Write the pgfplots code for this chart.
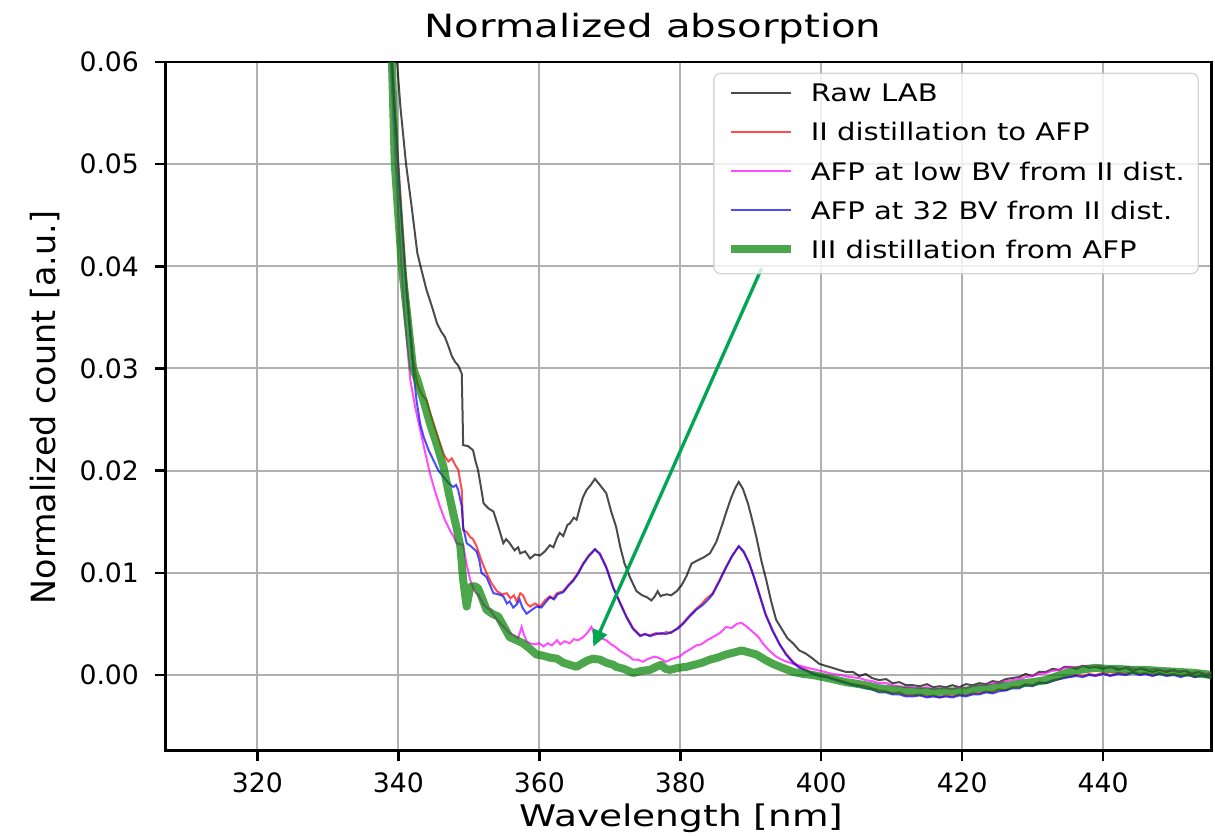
\documentclass[border=0pt]{standalone}
\usepackage{fontspec}
\setmainfont{DejaVu Sans}
\newfontfamily\widefont[FakeStretch=1.26]{DejaVu Sans}
\newfontfamily\legfont[FakeStretch=1.2]{DejaVu Sans}
\usepackage{pgfplots}
\pgfplotsset{compat=1.18}
\usetikzlibrary{arrows.meta}
\definecolor{gridc}{HTML}{B0B0B0}
\definecolor{arrowc}{HTML}{00A651}
\definecolor{mplgreen}{HTML}{008000}
\definecolor{mplred}{rgb}{1,0,0}
\definecolor{mplmagenta}{rgb}{1,0,1}
\definecolor{mplblue}{rgb}{0,0,1}

\begin{document}
\begin{tikzpicture}
\useasboundingbox (-49.71pt,-25.59pt) rectangle (314.79pt,225.21pt);
\begin{axis}[
    at={(0,0)}, anchor=south west,
    scale only axis,
    width=313.7pt, height=206.6pt,
    xmin=307.0, xmax=455.35,
    ymin=-0.00741, ymax=0.06,
    xtick={320,340,...,440},
    ytick={0,0.01,...,0.06},
    scaled y ticks=false,
    yticklabel style={/pgf/number format/fixed, /pgf/number format/fixed zerofill,
        /pgf/number format/precision=2, xshift=-1.3pt},
    /pgf/number format/assume math mode=true,
    ticklabel style={font=\fontsize{8}{9.6}\selectfont},
    tick pos=left,
    tick align=outside,
    major tick length=3.2pt,
    every tick/.style={black, line width=0.75pt},
    axis line style={line width=0.75pt},
    grid=major,
    grid style={gridc, line width=0.6pt},
    title={Normalized absorption},
    every axis title/.style={at={(axis description cs:0.466,1)}, anchor=base, yshift=7.4pt,
        font=\widefont\fontsize{9.6}{11}\selectfont},
    xlabel={Wavelength [nm]},
    every axis x label/.style={at={(axis description cs:0.4932,0)}, anchor=base, yshift=-22.8pt,
        font=\widefont\fontsize{8.94}{10.5}\selectfont},
    ylabel={Normalized count [a.u.]},
    every axis y label/.style={at={(axis description cs:-0.115,0.4983)}, rotate=90,
        anchor=center, font=\fontsize{10}{12}\selectfont},
    legend style={at={(axis description cs:0.9881,0.9845)}, anchor=north east,
        font=\legfont\fontsize{7.26}{8.7}\selectfont,
        draw=gray!40, rounded corners=2pt, fill=white, fill opacity=0.8,
        text opacity=1, draw opacity=0.8,
        inner xsep=4pt, inner ysep=3pt, row sep=4.65pt, column sep=4.9pt,
        nodes={inner sep=0pt, text height=5.5pt, text depth=1.6pt},
        cells={anchor=base west}},
    legend image code/.code={\draw[#1] (0pt,2.7pt) -- (17.8pt,2.7pt);},
]
% Raw LAB
\addplot[black, draw opacity=0.7, line width=0.6pt] table {
336.0 0.0900
339.0 0.0680
339.8 0.0602
340.3 0.0556
341.1 0.0500
341.9 0.0458
342.7 0.0413
343.3 0.0396
344.0 0.0377
344.8 0.0360
345.5 0.0344
346.1 0.0336
346.6 0.0331
347.1 0.0322
347.6 0.0312
348.1 0.0306
348.5 0.0303
349.0 0.0295
349.1 0.0262
349.2 0.0225
349.9 0.0224
350.6 0.0220
351.0 0.0208
351.3 0.0201
351.7 0.0185
352.1 0.0168
352.8 0.0163
353.5 0.0160
354.2 0.0145
354.9 0.0129
355.3 0.0133
355.8 0.0129
356.5 0.0122
357.0 0.0125
357.3 0.0119
358.0 0.0121
358.7 0.0114
359.4 0.0118
360.1 0.0117
360.8 0.0121
361.5 0.0127
362.0 0.0125
362.5 0.0134
362.9 0.0139
363.4 0.0136
364.0 0.0147
364.3 0.0148
364.9 0.0154
365.3 0.0152
365.8 0.0165
366.2 0.0174
366.7 0.0181
367.3 0.0186
367.9 0.0192
368.6 0.0186
369.5 0.0178
370.2 0.0160
370.9 0.0145
371.5 0.0125
372.1 0.0109
372.9 0.0095
373.8 0.0082
374.6 0.0078
375.3 0.0076
375.9 0.0073
376.4 0.0077
376.8 0.0082
377.2 0.0077
377.5 0.0078
378.1 0.0079
378.7 0.0078
379.5 0.0082
380.2 0.0088
380.9 0.0097
381.6 0.0109
382.4 0.0112
383.3 0.0115
384.2 0.0119
385.1 0.0130
386.0 0.0148
386.6 0.0161
387.2 0.0173
387.8 0.0183
388.3 0.0189
388.9 0.0182
389.6 0.0168
390.2 0.0152
390.8 0.0135
391.5 0.0112
392.2 0.0093
392.9 0.0072
393.6 0.0054
394.4 0.0045
395.2 0.0036
396.0 0.0031
396.9 0.0024
397.8 0.0021
398.8 0.0016
399.7 0.0011
400.6 0.0009
401.6 0.0007
402.5 0.0005
403.5 0.0003
404.5 0.0003
405.4 -0.0001
406.3 0.0001
407.2 -0.0003
408.2 -0.0005
409.2 -0.0004
410.1 -0.0008
411.1 -0.0007
412.0 -0.0010
413.0 -0.0010
414.0 -0.0011
415.0 -0.0009
415.9 -0.0012
416.8 -0.0011
417.7 -0.0012
418.6 -0.0010
419.6 -0.0012
420.5 -0.0009
421.5 -0.0010
422.4 -0.0008
423.4 -0.0009
424.3 -0.0006
425.2 -0.0007
426.2 -0.0004
427.1 -0.0003
428.1 -0.0002
429.0 0.0001
430.0 -0.0001
430.9 0.0003
431.9 0.0003
432.8 0.0006
433.8 0.0005
434.5 0.0008
435.2 0.0008
436.2 0.0006
437.1 0.0009
438.0 0.0007
438.9 0.0008
440.0 0.0006
441.0 0.0008
442.1 0.0005
443.2 0.0007
444.2 0.0004
445.2 0.0006
446.0 0.0005
447.0 0.0003
448.0 0.0005
449.0 0.0003
450.0 0.0005
450.7 0.0003
451.7 0.0004
452.6 0.0001
453.6 0.0003
454.5 0.0000
455.4 0.0001
};
\addlegendentry{Raw LAB}
% II distillation to AFP
\addplot[mplred, draw opacity=0.7, line width=0.6pt] table {
336.0 0.0900
339.0 0.0620
339.5 0.0555
340.5 0.0450
341.2 0.0380
342.1 0.0310
342.7 0.0285
343.3 0.0275
344.0 0.0269
344.6 0.0255
345.3 0.0240
345.9 0.0227
346.5 0.0215
347.1 0.0209
347.6 0.0212
348.1 0.0205
348.5 0.0201
349.0 0.0181
349.2 0.0142
349.7 0.0140
350.2 0.0135
350.6 0.0133
351.1 0.0126
351.8 0.0112
352.5 0.0100
353.2 0.0090
354.0 0.0082
354.7 0.0079
355.4 0.0080
355.9 0.0075
356.4 0.0078
356.8 0.0072
357.3 0.0080
357.7 0.0078
358.2 0.0070
358.7 0.0067
359.4 0.0070
360.1 0.0067
360.8 0.0073
361.5 0.0077
362.0 0.0075
362.5 0.0080
363.4 0.0082
364.1 0.0088
364.8 0.0093
365.5 0.0100
366.2 0.0109
367.0 0.0117
367.9 0.0123
368.6 0.0119
369.5 0.0106
370.5 0.0086
371.4 0.0072
372.4 0.0057
373.3 0.0046
374.3 0.0039
375.0 0.0040
375.7 0.0039
376.6 0.0041
377.3 0.0040
378.0 0.0042
378.7 0.0041
379.6 0.0046
380.4 0.0051
381.3 0.0058
382.3 0.0065
383.1 0.0070
383.6 0.0074
384.6 0.0080
385.5 0.0092
386.5 0.0106
387.4 0.0117
388.3 0.0126
389.0 0.0120
389.8 0.0109
390.5 0.0095
391.2 0.0080
392.1 0.0060
393.1 0.0044
394.1 0.0030
395.0 0.0021
396.0 0.0013
396.9 0.0008
397.9 0.0005
398.8 0.0002
399.7 0.0000
400.6 -0.0001
401.6 -0.0003
402.5 -0.0005
403.5 -0.0007
404.5 -0.0009
405.4 -0.0010
406.3 -0.0011
407.2 -0.0013
408.2 -0.0015
409.2 -0.0016
410.1 -0.0018
411.1 -0.0017
412.0 -0.0020
413.0 -0.0020
414.0 -0.0019
415.0 -0.0021
415.9 -0.0020
416.8 -0.0022
417.7 -0.0020
418.6 -0.0021
419.6 -0.0019
420.5 -0.0020
421.5 -0.0018
422.4 -0.0018
423.4 -0.0016
424.3 -0.0017
425.2 -0.0014
426.2 -0.0015
427.1 -0.0012
428.1 -0.0012
429.0 -0.0009
430.0 -0.0010
430.9 -0.0007
431.9 -0.0008
432.8 -0.0005
433.8 -0.0004
434.5 -0.0002
435.2 -0.0002
436.2 0.0000
437.1 -0.0001
438.0 0.0001
438.9 0.0000
440.0 0.0002
441.0 0.0000
442.1 0.0002
443.2 0.0001
444.2 0.0003
445.2 0.0001
446.0 0.0002
447.0 0.0000
448.0 0.0002
449.0 0.0000
450.0 0.0001
451.0 -0.0001
452.0 0.0001
453.0 -0.0002
454.0 0.0000
455.4 -0.0002
};
\addlegendentry{II distillation to AFP}
% AFP at low BV
\addplot[mplmagenta, draw opacity=0.7, line width=0.6pt] table {
336.0 0.0900
338.8 0.0620
339.3 0.0545
340.1 0.0440
340.9 0.0350
341.7 0.0289
342.4 0.0262
343.1 0.0240
343.8 0.0218
344.5 0.0197
345.2 0.0180
345.9 0.0165
346.6 0.0152
347.3 0.0142
347.8 0.0136
348.3 0.0129
348.8 0.0128
349.2 0.0127
349.7 0.0108
350.2 0.0093
350.8 0.0082
351.4 0.0078
352.0 0.0070
352.5 0.0066
353.0 0.0064
353.7 0.0057
354.4 0.0051
355.1 0.0046
355.8 0.0041
356.4 0.0039
357.0 0.0036
357.5 0.0047
357.8 0.0040
358.2 0.0033
358.7 0.0031
359.4 0.0030
360.0 0.0031
360.6 0.0028
361.2 0.0031
361.8 0.0029
362.5 0.0034
363.0 0.0030
363.6 0.0033
364.3 0.0031
364.9 0.0035
365.5 0.0034
366.2 0.0037
366.8 0.0041
367.4 0.0047
368.1 0.0034
368.8 0.0036
369.5 0.0034
370.2 0.0030
370.7 0.0028
371.4 0.0024
372.1 0.0021
372.8 0.0018
373.3 0.0015
374.0 0.0015
374.7 0.0013
375.5 0.0016
376.4 0.0018
377.2 0.0016
378.0 0.0013
378.9 0.0016
379.9 0.0018
380.6 0.0022
381.4 0.0025
382.3 0.0029
383.0 0.0030
383.8 0.0034
384.6 0.0037
385.6 0.0041
386.5 0.0047
387.3 0.0046
388.0 0.0050
388.7 0.0051
389.5 0.0047
390.3 0.0042
391.0 0.0038
391.7 0.0031
392.6 0.0024
393.6 0.0018
394.7 0.0014
396.0 0.0011
397.5 0.0008
399.3 0.0005
400.5 0.0003
401.6 0.0001
402.8 0.0000
404.0 -0.0002
405.4 -0.0003
406.3 -0.0005
407.2 -0.0006
408.2 -0.0008
409.2 -0.0008
410.1 -0.0010
411.1 -0.0011
412.0 -0.0012
413.0 -0.0012
414.0 -0.0013
415.0 -0.0012
415.9 -0.0014
416.8 -0.0013
417.7 -0.0013
418.6 -0.0014
419.6 -0.0012
420.5 -0.0013
421.5 -0.0011
422.4 -0.0010
423.4 -0.0010
424.3 -0.0008
425.2 -0.0008
426.2 -0.0006
427.1 -0.0005
428.1 -0.0004
429.0 -0.0002
430.0 -0.0001
430.9 0.0001
431.9 0.0002
432.8 0.0004
433.8 0.0005
434.5 0.0007
435.5 0.0008
436.5 0.0008
437.5 0.0009
438.5 0.0008
439.5 0.0009
440.5 0.0007
441.5 0.0008
442.5 0.0006
443.5 0.0008
444.5 0.0006
445.5 0.0007
446.5 0.0005
447.5 0.0006
448.5 0.0004
449.5 0.0005
450.5 0.0003
451.5 0.0004
452.5 0.0002
453.5 0.0003
454.5 0.0001
455.4 0.0002
};
\addlegendentry{AFP at low BV from II dist.}
% AFP at 32 BV
\addplot[mplblue, draw opacity=0.7, line width=0.6pt] table {
336.0 0.0900
339.0 0.0610
339.5 0.0550
340.5 0.0440
341.2 0.0370
342.1 0.0300
342.6 0.0268
343.1 0.0246
343.6 0.0233
344.3 0.0220
345.0 0.0210
345.7 0.0200
346.4 0.0194
347.1 0.0188
347.8 0.0184
348.2 0.0186
348.5 0.0181
349.0 0.0165
349.2 0.0145
349.7 0.0129
350.3 0.0126
351.1 0.0121
351.5 0.0112
351.8 0.0100
352.5 0.0096
353.0 0.0088
353.5 0.0080
354.2 0.0079
354.9 0.0077
355.4 0.0070
355.8 0.0072
356.3 0.0066
356.8 0.0069
357.2 0.0074
357.6 0.0066
358.2 0.0060
358.8 0.0063
359.6 0.0067
360.3 0.0066
361.0 0.0072
361.5 0.0076
362.1 0.0074
362.6 0.0079
363.4 0.0081
364.1 0.0087
364.8 0.0092
365.5 0.0099
366.2 0.0108
367.0 0.0116
367.9 0.0123
368.6 0.0118
369.5 0.0105
370.5 0.0085
371.4 0.0071
372.4 0.0056
373.3 0.0045
374.3 0.0038
375.0 0.0040
375.7 0.0038
376.6 0.0040
377.3 0.0041
378.0 0.0040
378.7 0.0042
379.6 0.0045
380.4 0.0050
381.3 0.0057
382.3 0.0064
383.1 0.0068
384.0 0.0074
384.6 0.0079
385.5 0.0091
386.5 0.0105
387.4 0.0117
388.3 0.0126
389.0 0.0121
389.8 0.0109
390.5 0.0095
391.2 0.0079
392.1 0.0059
393.1 0.0043
394.1 0.0030
395.0 0.0020
396.0 0.0012
396.9 0.0007
397.9 0.0004
398.8 0.0001
399.7 -0.0001
400.6 -0.0002
401.6 -0.0004
402.5 -0.0006
403.5 -0.0008
404.5 -0.0010
405.4 -0.0011
406.3 -0.0013
407.2 -0.0014
408.2 -0.0017
409.2 -0.0017
410.1 -0.0019
411.1 -0.0019
412.0 -0.0021
413.0 -0.0021
414.0 -0.0020
415.0 -0.0022
415.9 -0.0021
416.8 -0.0022
417.7 -0.0021
418.6 -0.0022
419.6 -0.0020
420.5 -0.0021
421.5 -0.0019
422.4 -0.0019
423.4 -0.0017
424.3 -0.0018
425.2 -0.0016
426.2 -0.0015
427.1 -0.0013
428.1 -0.0013
429.0 -0.0010
430.0 -0.0011
430.9 -0.0008
431.9 -0.0008
432.8 -0.0006
433.8 -0.0004
434.5 -0.0003
435.2 -0.0002
436.2 -0.0001
437.1 -0.0002
438.0 0.0000
438.9 -0.0001
440.0 0.0001
441.0 -0.0001
442.1 0.0001
443.2 0.0000
444.2 0.0002
445.2 0.0000
446.0 0.0001
447.0 -0.0001
448.0 0.0001
449.0 -0.0001
450.0 0.0000
451.0 -0.0002
452.0 0.0000
453.0 -0.0002
454.0 -0.0001
455.4 -0.0003
};
\addlegendentry{AFP at 32 BV from II dist.}
% III distillation from AFP
\addplot[mplgreen, draw opacity=0.7, line width=2.4pt, line join=round] table {
336.0 0.0900
339.0 0.0630
339.1 0.0600
339.5 0.0500
340.5 0.0400
342.1 0.0300
342.7 0.0289
343.6 0.0268
344.5 0.0246
345.5 0.0225
346.4 0.0204
347.1 0.0180
347.8 0.0158
348.3 0.0143
348.8 0.0126
349.2 0.0093
349.7 0.0067
350.2 0.0086
350.8 0.0087
351.3 0.0085
351.9 0.0075
352.5 0.0064
353.3 0.0060
354.2 0.0057
355.0 0.0047
355.8 0.0037
356.8 0.0034
357.7 0.0031
358.6 0.0026
359.6 0.0020
360.5 0.0019
361.5 0.0017
362.5 0.0016
363.4 0.0012
364.3 0.0010
365.3 0.0008
366.0 0.0011
366.8 0.0014
367.6 0.0016
368.6 0.0015
369.5 0.0012
370.5 0.0010
370.9 0.0008
372.0 0.0006
373.3 0.0002
374.5 0.0004
375.7 0.0005
376.6 0.0008
377.3 0.0010
377.9 0.0006
378.5 0.0005
379.7 0.0007
380.9 0.0008
382.0 0.0010
383.1 0.0012
384.2 0.0015
385.3 0.0017
386.5 0.0020
387.6 0.0022
388.7 0.0024
389.8 0.0022
390.8 0.0020
392.0 0.0015
393.1 0.0011
394.5 0.0007
396.0 0.0003
397.5 0.0001
398.8 0.0000
400.2 -0.0002
401.6 -0.0004
403.5 -0.0007
405.4 -0.0009
407.0 -0.0011
408.2 -0.0013
409.7 -0.0014
411.1 -0.0015
413.0 -0.0016
414.5 -0.0016
415.9 -0.0017
417.7 -0.0016
419.6 -0.0016
421.0 -0.0015
422.4 -0.0013
424.0 -0.0013
425.6 -0.0011
427.1 -0.0010
428.6 -0.0008
430.0 -0.0007
431.9 -0.0005
433.5 -0.0001
435.2 0.0003
436.7 0.0005
438.9 0.0007
440.5 0.0006
442.0 0.0006
444.0 0.0005
446.0 0.0005
448.0 0.0004
450.7 0.0003
453.0 0.0002
455.4 0.0000
};
\addlegendentry{III distillation from AFP}
\draw[arrowc, line width=1pt, -{Triangle[length=5pt,width=4.5pt]}]
    (axis cs:391.55,0.03981) -- (axis cs:367.66,0.00277);
\end{axis}
\end{tikzpicture}
\end{document}
